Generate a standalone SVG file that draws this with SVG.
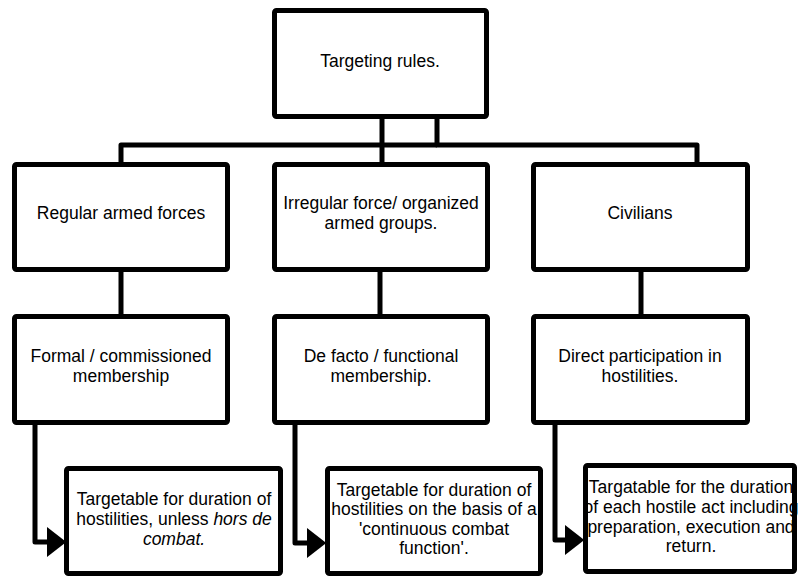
<svg xmlns="http://www.w3.org/2000/svg" width="799" height="577" viewBox="0 0 799 577">
<style>
.box{fill:#fff;stroke:#000;stroke-width:5}
.con{fill:none;stroke:#000;stroke-width:5;stroke-linejoin:round}
text{font-family:"Liberation Sans",Arial,sans-serif;font-size:17.5px;fill:#000;text-anchor:middle}
.it{font-style:italic}
</style>
<defs>
<marker id="arr" markerUnits="userSpaceOnUse" markerWidth="20" markerHeight="30" viewBox="0 0 18 28" refX="0" refY="14" orient="auto">
<path d="M0,0 L18,14 L0,28 Z" fill="#000"/>
</marker>
</defs>
<g id="connectors">
<path class="con" d="M382,118 V163"/>
<path class="con" d="M437,118 V145 H697 V163"/>
<path class="con" d="M437,145 H121 V163"/>
<path class="con" d="M121,271 V315"/>
<path class="con" d="M380,271 V315"/>
<path class="con" d="M641,271 V315"/>
<path class="con" d="M35,424 V542 H47" marker-end="url(#arr)"/>
<path class="con" d="M295,424 V543 H307" marker-end="url(#arr)"/>
<path class="con" d="M555,424 V540 H565" marker-end="url(#arr)"/>
</g>
<g id="root">
<rect class="box" x="274.5" y="10.5" width="212" height="106" rx="2"/>
<text x="380" y="67">Targeting rules.</text>
</g>
<g id="regular">
<rect class="box" x="14.5" y="164.5" width="213" height="105" rx="2"/>
<text x="121" y="219">Regular armed forces</text>
</g>
<g id="irregular">
<rect class="box" x="274.5" y="164.5" width="213" height="105" rx="2"/>
<text x="381" y="209">Irregular force/ organized</text>
<text x="381" y="229">armed groups.</text>
</g>
<g id="civilians">
<rect class="box" x="533.5" y="164.5" width="214" height="105" rx="2"/>
<text x="640" y="219">Civilians</text>
</g>
<g id="formal">
<rect class="box" x="14.5" y="316.5" width="213" height="106" rx="2"/>
<text x="121" y="362">Formal / commissioned</text>
<text x="121" y="382">membership</text>
</g>
<g id="defacto">
<rect class="box" x="274.5" y="316.5" width="213" height="106" rx="2"/>
<text x="381" y="362">De facto / functional</text>
<text x="381" y="382">membership.</text>
</g>
<g id="direct">
<rect class="box" x="533.5" y="316.5" width="214" height="106" rx="2"/>
<text x="640" y="362">Direct participation in</text>
<text x="640" y="382">hostilities.</text>
</g>
<g id="target-regular">
<rect class="box" x="66.5" y="468.5" width="214" height="105" rx="2"/>
<text x="174" y="505">Targetable for duration of</text>
<text x="174" y="525">hostilities, unless <tspan class="it">hors de</tspan></text>
<text x="174" y="545" class="it">combat.</text>
</g>
<g id="target-irregular">
<rect class="box" x="327.5" y="468.5" width="213" height="105" rx="2"/>
<text x="434" y="496">Targetable for duration of</text>
<text x="434" y="515">hostilities on the basis of a</text>
<text x="434" y="535">'continuous combat</text>
<text x="434" y="554">function'.</text>
</g>
<g id="target-civilians">
<rect class="box" x="585.5" y="465.5" width="209" height="106" rx="2"/>
<text x="691" y="493">Targatable for the duration</text>
<text x="691" y="513">of each hostile act including</text>
<text x="691" y="533">preparation, execution and</text>
<text x="691" y="552">return.</text>
</g>
</svg>
